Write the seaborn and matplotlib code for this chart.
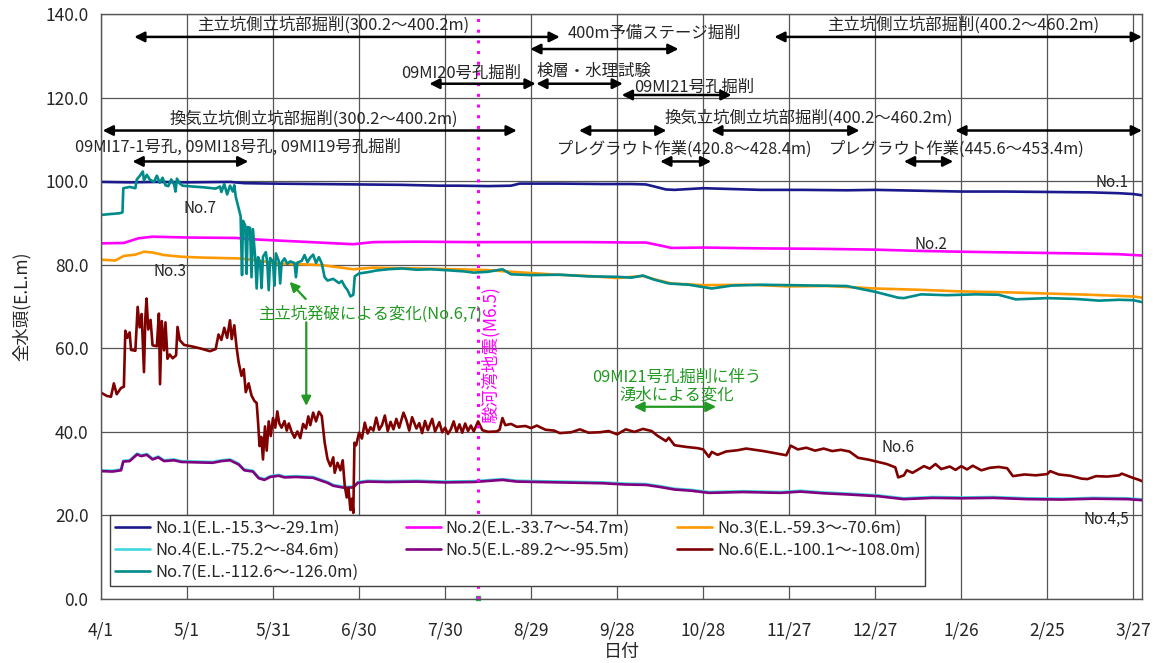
import matplotlib
matplotlib.use("Agg")
import matplotlib.pyplot as plt
import seaborn as sns
import pandas as pd

# ---------------- data ----------------
tick_days = [0, 30, 60, 90, 120, 150, 180, 210, 240, 270, 300, 330, 360]
tick_labels = ["4/1", "5/1", "5/31", "6/30", "7/30", "8/29", "9/28",
               "10/28", "11/27", "12/27", "1/26", "2/25", "3/27"]
y_ticks = [0, 20, 40, 60, 80, 100, 120, 140]

series_names = ["No.1(E.L.-15.3～-29.1m)", "No.2(E.L.-33.7～-54.7m)",
                "No.3(E.L.-59.3～-70.6m)", "No.4(E.L.-75.2～-84.6m)",
                "No.5(E.L.-89.2～-95.5m)", "No.6(E.L.-100.1～-108.0m)",
                "No.7(E.L.-112.6～-126.0m)"]
series_colors = ["#1a1a8c", "#ff00ff", "#ff9900", "#40d8e0",
                 "#800080", "#800000", "#008b8b"]

d1 = [0, 10, 20, 30, 45, 50, 60, 75, 90, 105, 118, 125, 135, 143, 146, 160, 175,
      185, 190, 193, 197, 200, 210, 220, 230, 245, 260, 270, 285, 300, 315, 330,
      345, 355, 360, 363]
v1 = [99.8, 99.7, 99.8, 99.7, 99.8, 99.5, 99.4, 99.3, 99.2, 99.1, 98.9, 98.9,
      98.8, 98.9, 99.4, 99.4, 99.3, 99.3, 99.2, 98.7, 98.0, 97.9, 98.3, 98.1,
      97.9, 97.9, 97.8, 97.9, 97.7, 97.5, 97.5, 97.4, 97.3, 97.1, 96.9, 96.6]

d2 = [0, 8, 13, 18, 30, 47, 55, 70, 88, 95, 110, 130, 150, 170, 185, 190, 195,
      199, 210, 230, 250, 270, 285, 300, 320, 340, 355, 363]
v2 = [85.1, 85.2, 86.3, 86.7, 86.5, 86.4, 86.0, 85.5, 84.9, 85.4, 85.5, 85.4,
      85.4, 85.4, 85.3, 85.3, 84.6, 84.0, 84.1, 83.9, 83.8, 83.6, 83.3, 83.1,
      82.9, 82.7, 82.5, 82.2]

d3 = [0, 5, 8, 12, 15, 18, 22, 28, 35, 48, 55, 61, 70, 77, 88, 95, 100, 110,
      124, 135, 143, 150, 159, 170, 180, 189, 193, 199, 210, 226, 240, 253, 262,
      270, 285, 300, 315, 330, 345, 360, 364]
v3 = [81.2, 81.0, 82.1, 82.4, 83.1, 82.9, 82.3, 81.9, 81.7, 81.5, 81.0, 80.3,
      80.1, 79.9, 78.9, 79.3, 79.2, 79.1, 78.9, 78.7, 78.3, 78.0, 77.6, 77.3,
      76.8, 77.3, 76.5, 75.5, 75.1, 75.2, 74.8, 74.9, 74.6, 74.3, 74.0, 73.6,
      73.4, 73.1, 72.8, 72.4, 72.0]

d45 = [0, 4, 7, 7.8, 10, 12.6, 14, 16, 18, 20, 22, 25.5, 28, 33, 39, 42, 45, 48,
       50, 53, 55, 57, 59, 62, 64, 68, 74, 79, 81, 85, 88, 89.6, 93, 100, 110,
       120, 130, 140, 145, 160, 175, 183, 190, 195, 200, 206, 212, 224, 237, 244,
       252, 261, 271, 276, 280, 290, 300, 311, 323, 335, 346, 358, 364]
v4 = [30.8, 30.7, 31.0, 33.1, 33.2, 34.8, 34.4, 34.7, 33.6, 34.1, 33.2, 33.4,
      33.0, 32.9, 32.8, 33.2, 33.4, 32.4, 31.0, 30.7, 29.1, 28.7, 29.4, 29.7,
      29.3, 29.4, 29.2, 28.0, 27.3, 26.8, 26.9, 28.0, 28.3, 28.2, 28.3, 28.1,
      28.2, 28.7, 28.3, 28.1, 27.9, 27.6, 27.5, 27.0, 26.4, 26.1, 25.6, 25.8,
      25.6, 25.9, 25.5, 25.2, 24.8, 24.4, 24.1, 24.4, 24.3, 24.4, 24.1, 24.0,
      24.2, 24.1, 23.8]
v5 = [30.6, 30.5, 30.8, 32.9, 33.0, 34.6, 34.2, 34.5, 33.4, 33.9, 33.0, 33.2,
      32.8, 32.7, 32.6, 33.0, 33.2, 32.2, 30.8, 30.5, 28.9, 28.5, 29.2, 29.5,
      29.1, 29.2, 29.0, 27.8, 27.1, 26.6, 26.7, 27.8, 28.1, 28.0, 28.1, 27.9,
      28.0, 28.5, 28.1, 27.9, 27.7, 27.4, 27.3, 26.8, 26.2, 25.9, 25.4, 25.6,
      25.4, 25.7, 25.3, 25.0, 24.6, 24.2, 23.9, 24.2, 24.1, 24.2, 23.9, 23.8,
      24.0, 23.9, 23.6]

d6 = [0, 2, 3.5, 4.5, 5.5, 7, 8, 8.5, 9.2, 10, 10.5, 12, 12.8, 13.5, 14.2, 15,
      15.5, 15.9, 16.5, 17.3, 18, 19.5, 20.2, 20.6, 21.2, 22, 22.5, 23.2, 24, 25,
      26.2, 26.7, 27.5, 29, 32, 35, 38, 40, 41, 42, 43, 44, 45, 45.6, 46.5, 47.3,
      48, 49, 49.8, 50.5, 51.5, 52.5, 53.5, 54.3, 54.8, 55.3, 55.9, 56.5, 57.2,
      57.8, 58.5, 59.2, 60, 60.8, 61.5, 62.2, 63, 64, 64.8, 65.5, 66.5, 67.5,
      68.5, 69.5, 70.5, 71.5, 72.3, 73, 74, 75, 76, 77, 78, 79, 80, 81, 81.5,
      82.5, 83.5, 84.3, 85, 85.7, 86.3, 87, 87.5, 88, 88.4, 89, 90, 91, 92, 93,
      94, 95, 96, 97, 98, 99, 100, 101, 102, 103, 104, 105.5, 106.5, 107.5,
      108.5, 110, 111, 112, 113, 114, 115.5, 116.5, 118, 119, 120, 121, 122, 123,
      124, 125, 126, 127, 128, 129, 130, 131.5, 133, 135, 138, 139, 140, 141,
      143, 145, 148, 150, 152, 155, 158, 160, 164, 167, 170, 174, 177, 180, 183,
      186, 189, 192, 194, 197, 198, 200, 204, 208, 210, 212, 213, 215, 218, 222,
      225, 228, 231, 235, 239, 240.5, 243, 246, 249, 252, 255, 258, 261, 264,
      268, 271, 274, 277, 278, 280, 281, 283, 285, 287, 289, 291, 293, 296, 298,
      300, 302, 304, 307, 310, 313, 316, 318, 322, 326, 330, 331, 334, 338, 342,
      344, 347, 351, 355, 356, 359, 362, 364]
v6 = [49.4, 48.6, 48.4, 51.6, 49.0, 50.5, 50.8, 64.2, 62.5, 63.8, 59.6, 59.4,
      69.9, 65.0, 68.2, 54.3, 67.5, 71.9, 64.5, 66.8, 60.7, 60.5, 68.3, 51.4,
      66.5, 59.5, 66.2, 57.5, 58.5, 57.6, 58.3, 65.1, 61.9, 60.8, 60.4, 59.9,
      59.3, 59.8, 63.3, 62.0, 64.9, 62.5, 66.7, 62.2, 65.5, 60.2, 56.7, 53.4,
      55.0, 49.5, 51.6, 48.7, 47.4, 46.9, 42.2, 36.6, 38.8, 33.4, 41.3, 35.5,
      42.5, 39.0, 43.3, 41.0, 44.9, 42.0, 41.0, 42.6, 40.3, 42.0, 40.0, 38.6,
      40.1, 38.5, 41.9, 40.8, 43.7, 41.6, 44.6, 42.5, 44.8, 43.8, 37.5, 33.5,
      31.8, 33.9, 30.2, 32.6, 30.8, 33.2, 27.2, 24.3, 26.5, 21.3, 24.0, 20.6,
      37.4, 36.8, 39.8, 38.4, 42.2, 39.6, 41.1, 40.3, 43.4, 40.5, 41.6, 43.9,
      40.2, 42.4, 40.6, 43.1, 41.0, 44.6, 42.8, 40.3, 43.5, 40.8, 42.1, 39.7,
      42.6, 40.4, 43.1, 40.1, 42.3, 39.9, 41.0, 39.5, 40.6, 42.5, 40.0, 41.8,
      39.8, 42.0, 40.2, 41.5, 40.1, 42.5, 40.4, 40.0, 40.1, 40.5, 43.3, 41.6,
      41.9, 41.2, 41.4, 40.9, 41.5, 40.5, 40.3, 39.7, 39.9, 40.6, 39.8, 39.9,
      40.2, 39.4, 40.6, 40.0, 40.7, 40.2, 39.1, 37.8, 38.6, 36.8, 36.4, 36.1,
      35.8, 34.0, 35.2, 34.5, 35.3, 35.6, 36.0, 35.7, 35.4, 34.9, 34.4, 36.7,
      35.8, 36.2, 35.5, 36.0, 35.4, 35.7, 35.3, 33.8, 33.3, 32.8, 32.3, 31.5,
      29.1, 29.6, 30.8, 30.2, 31.0, 31.8, 31.2, 32.3, 31.1, 31.7, 30.9, 31.8,
      31.0, 31.9, 30.8, 31.4, 31.6, 31.3, 29.4, 29.8, 29.6, 29.9, 30.6, 29.8,
      29.5, 28.8, 28.7, 29.4, 29.3, 29.6, 30.0, 29.2, 28.5, 27.9]

d7 = [0, 3, 6.5, 7.5, 7.8, 10, 12, 12.5, 13.5, 14.6, 15, 16, 17, 18.5, 19.5,
      20.5, 21.5, 22.5, 23.5, 24.5, 25.5, 26, 26.5, 27.5, 28.5, 32, 36, 40, 41.5,
      42, 43, 44, 45, 46, 46.5, 47, 48, 48.7, 49.2, 49.5, 50.3, 50.8, 51.2, 52,
      52.5, 53, 53.8, 54.3, 54.8, 55.5, 56, 56.5, 57.5, 58, 58.5, 59, 60, 60.5,
      61, 62, 62.5, 63, 64, 65, 66, 67.5, 68, 68.5, 70, 71, 72, 73, 74, 75, 76,
      77, 78, 79, 81, 83, 84, 85, 86, 87, 88, 88.5, 90, 93, 96, 100, 105, 110,
      115, 120, 126.5, 130, 135, 140, 143, 150, 160, 170, 180, 185, 189, 193,
      198, 205, 213, 220, 230, 240, 250, 260, 265, 270, 278, 280, 286, 295, 305,
      313, 319, 330, 340, 348, 355, 360, 364]
v7 = [91.9, 92.1, 92.3, 92.5, 98.3, 98.6, 98.3, 100.4, 101.2, 102.3, 100.2,
      101.5, 100.4, 99.8, 101.3, 99.6, 100.8, 99.0, 98.8, 100.4, 99.2, 97.5,
      100.6, 99.4, 98.9, 98.7, 98.5, 98.2, 98.7, 97.4, 99.3, 96.8, 98.9, 97.5,
      99.0, 96.3, 93.5, 91.6, 77.5, 90.5, 89.4, 77.8, 89.0, 88.8, 77.0, 88.5,
      81.5, 74.3, 81.8, 80.6, 74.4, 81.9, 83.0, 80.4, 73.9, 81.6, 80.7, 75.0,
      82.7, 80.9, 75.5, 80.5, 81.5, 80.2, 80.8, 80.4, 77.0, 80.5, 80.9, 82.3,
      80.6, 81.7, 82.4, 80.4, 81.8, 80.3, 77.0, 76.2, 76.6, 75.6, 76.1, 74.8,
      73.9, 72.4, 72.8, 77.2, 77.9, 78.2, 78.6, 78.9, 79.1, 78.8, 78.9, 78.7,
      78.4, 78.1, 78.3, 78.9, 77.7, 77.5, 77.6, 77.2, 77.1, 76.9, 77.4, 76.4,
      75.5, 75.2, 74.3, 75.0, 75.2, 75.1, 75.0, 74.9, 74.2, 73.5, 72.1, 72.0,
      72.9, 72.7, 72.9, 72.8, 71.7, 72.0, 71.8, 71.4, 71.6, 71.5, 70.9]

series_days = [d1, d2, d3, d45, d45, d6, d7]
series_vals = [v1, v2, v3, v4, v5, v6, v7]

quake_day = 131.6

# ---------------- style ----------------
sns.set_theme(style="white")
plt.rcParams["font.family"] = ["Noto Sans CJK JP", "DejaVu Sans"]
plt.rcParams["axes.unicode_minus"] = False

fig = plt.figure(figsize=(11.55, 6.63), dpi=100)
ax = fig.add_axes([0.0874, 0.0965, 0.9013, 0.8825])

for name, days, vals, col in zip(series_names, series_days, series_vals, series_colors):
    df = pd.DataFrame({"day": days, "val": vals})
    sns.lineplot(data=df, x="day", y="val", ax=ax, color=col, lw=1.9,
                 estimator=None, sort=False, label=name)

ax.set_xlim(0, 363)
ax.set_ylim(0, 140)
ax.set_xticks(tick_days)
ax.set_xticklabels(tick_labels)
ax.set_yticks(y_ticks)
ax.set_yticklabels([f"{v:.1f}" for v in y_ticks])
ax.tick_params(axis="x", labelsize=12.5, pad=16, length=0)
ax.tick_params(axis="y", labelsize=12.5, pad=9, length=0)
ax.grid(True, color="#555555", lw=0.9)
ax.set_axisbelow(True)
for sp in ax.spines.values():
    sp.set_color("#555555")
    sp.set_linewidth(1.0)
ax.set_xlabel("日付", fontsize=13, labelpad=3)
ax.set_ylabel("全水頭(E.L.m)", fontsize=12.5, labelpad=10)

# earthquake line
ax.axvline(quake_day, color="#ff00ff", ls=(0, (1, 2.5)), lw=2.2, zorder=3)
ax.text(135.8, 58.6, "駿河湾地震(M6.5)", rotation=90, color="#ff00ff",
        fontsize=12.5, ha="center", va="center")
ax.plot([quake_day], [0.3], marker="s", ms=3, color="#22aa44", clip_on=False)

# black work-period arrows
def darrow(x1, x2, y, color="black", lw=1.8):
    ax.annotate("", xy=(x2, y), xytext=(x1, y),
                arrowprops=dict(arrowstyle="<|-|>", color=color, lw=lw,
                                mutation_scale=15, shrinkA=0, shrinkB=0))

tfs = 11.8
dy = -0.8
darrow(11.6, 160, 134.5)
ax.text(81, 138.2 + dy, "主立坑側立坑部掘削(300.2～400.2m)", fontsize=tfs, ha="center", va="center")
ax.text(193, 136.2 + dy, "400m予備ステージ掘削", fontsize=tfs, ha="center", va="center")
darrow(149.7, 201.4, 131.6)
darrow(234.8, 363, 134.5)
ax.text(300.7, 138.2 + dy, "主立坑側立坑部掘削(400.2～460.2m)", fontsize=tfs, ha="center", va="center")

ax.text(125.7, 126.5 + dy, "09MI20号孔掘削", fontsize=tfs, ha="center", va="center")
darrow(114.5, 151.6, 123.3)
ax.text(172, 127 + dy, "検層・水理試験", fontsize=tfs, ha="center", va="center")
darrow(151.8, 182.0, 123.3)
ax.text(206.7, 123.2 + dy, "09MI21号孔掘削", fontsize=tfs, ha="center", va="center")
darrow(181.6, 219.9, 120.6)

ax.text(74.3, 115.7 + dy, "換気立坑側立坑部掘削(300.2～400.2m)", fontsize=tfs, ha="center", va="center")
darrow(0.6, 145, 112.1)
ax.text(47.7, 108.8 + dy, "09MI17-1号孔, 09MI18号孔, 09MI19号孔掘削", fontsize=tfs, ha="center", va="center")
darrow(11, 51.4, 104.7)

ax.text(247, 115.8 + dy, "換気立坑側立坑部掘削(400.2～460.2m)", fontsize=tfs, ha="center", va="center")
darrow(166.7, 197.2, 112.1)
darrow(212.8, 264.5, 112.1)
darrow(297.9, 363, 112.1)
ax.text(203.6, 108.4 + dy, "プレグラウト作業(420.8～428.4m)", fontsize=tfs, ha="center", va="center")
ax.text(298.6, 108.4 + dy, "プレグラウト作業(445.6～453.4m)", fontsize=tfs, ha="center", va="center")
darrow(195, 212.8, 104.7)
darrow(280, 297.2, 104.7)

# green annotations
green = "#229922"
ax.text(94, 69 + dy, "主立坑発破による変化(No.6,7)", fontsize=tfs, color=green, ha="center", va="center")
ax.annotate("", xy=(65.8, 75.9), xytext=(71.4, 71.8),
            arrowprops=dict(arrowstyle="-|>", color=green, lw=1.6, mutation_scale=14,
                            shrinkA=0, shrinkB=0))
ax.annotate("", xy=(71.6, 46.2), xytext=(71.6, 66.2),
            arrowprops=dict(arrowstyle="-|>", color=green, lw=1.6, mutation_scale=14,
                            shrinkA=0, shrinkB=0))
ax.text(200.8, 51.8 + dy, "09MI21号孔掘削に伴う\n湧水による変化", fontsize=tfs, color=green,
        ha="center", va="center", linespacing=1.05)
darrow(185.8, 214.5, 46.0, color=green, lw=1.6)

# series labels
lfs = 11
ax.text(34.7, 94.3 + dy, "No.7", fontsize=lfs, ha="center", va="center")
ax.text(24, 79.1 + dy, "No.3", fontsize=lfs, ha="center", va="center")
ax.text(352.6, 100.4 + dy, "No.1", fontsize=lfs, ha="center", va="center")
ax.text(289.3, 85.6 + dy, "No.2", fontsize=lfs, ha="center", va="center")
ax.text(278, 37 + dy, "No.6", fontsize=lfs, ha="center", va="center")
ax.text(350.6, 19.8 + dy, "No.4,5", fontsize=lfs, ha="center", va="center")

# legend (row-major order)
handles, labels = ax.get_legend_handles_labels()
order = [0, 3, 6, 1, 4, 2, 5]
leg = ax.legend([handles[i] for i in order], [labels[i] for i in order],
                ncol=3, loc="lower left", bbox_to_anchor=(0.009, 0.022, 0.783, 0.123),
                mode="expand", fontsize=12, frameon=True, fancybox=False,
                edgecolor="#404040", framealpha=1, handlelength=2.1,
                handletextpad=0.3, labelspacing=0.3, borderpad=0.3,
                borderaxespad=0)
leg.get_frame().set_linewidth(1.0)
leg.set_zorder(5)

fig.savefig("out.png", dpi=100)
